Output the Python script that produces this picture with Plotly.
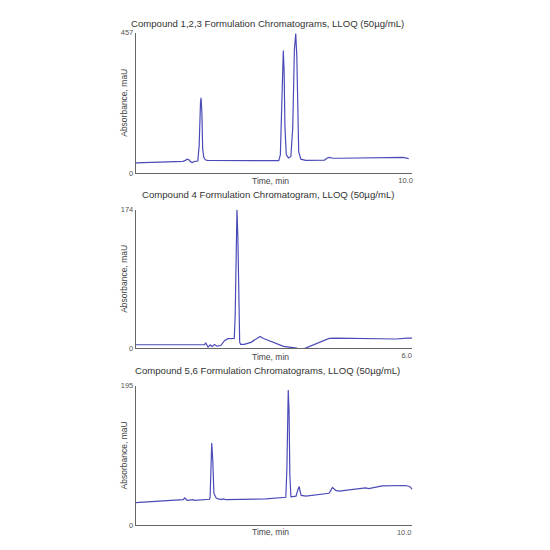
import plotly.graph_objects as go

# Compound 1,2,3 chromatogram (time in min, absorbance in mAU)
t_123 = [0, 1.0, 1.75, 1.84, 1.90, 1.97, 2.04, 2.10, 2.19, 2.30, 2.35, 2.40, 2.42, 2.45, 2.48,
         2.52, 2.58, 2.65, 3.5, 5.30, 5.36, 5.42, 5.47, 5.50, 5.53, 5.58, 5.66, 5.75, 5.82, 5.88,
         5.93, 5.97, 6.00, 6.04, 6.12, 6.30, 7.00, 7.10, 7.18, 7.30, 7.60, 8.5, 9.5, 9.9, 10.12]
abs_123 = [34, 37, 39, 42, 46, 44, 37, 35, 39, 40, 90, 230, 245, 200, 80,
           52, 44, 42, 41, 41, 60, 300, 399, 330, 150, 60, 50, 55, 150, 400,
           454, 380, 200, 70, 46, 42, 43, 50, 52, 49, 49, 51, 53, 52, 48]

# Compound 4 chromatogram
t_4 = [0, 1.52, 1.55, 1.58, 1.60, 1.65, 1.69, 1.74, 1.80, 1.88, 1.97, 2.04, 2.18, 2.20, 2.23,
       2.24, 2.26, 2.28, 2.30, 2.32, 2.40, 2.55, 2.62, 2.75, 2.83, 3.05, 3.27, 3.56, 3.60, 3.66,
       3.72, 3.75, 4.28, 4.43, 5.65, 5.76, 6.00, 6.12]
abs_4 = [4.6, 4.6, 6.7, 3, 1.7, 4.5, 2.2, 5, 2.8, 3.6, 10, 12.2, 12.5, 40, 160,
         174, 140, 40, 8, 5, 5, 7.6, 10, 15, 12.5, 7, 2.5, 0.4, -0.5, -3,
         -0.5, 0.2, 12.6, 13, 12.6, 11.8, 13, 13]

# Compound 5,6 chromatogram
t_56 = [0, 1.76, 1.83, 1.91, 2.00, 2.13, 2.19, 2.75, 2.77, 2.81, 2.83, 2.87, 2.91, 3.00, 3.18,
        3.24, 3.37, 4.85, 5.59, 5.63, 5.67, 5.68, 5.71, 5.74, 5.78, 5.97, 6.04, 6.09, 6.12, 6.16,
        6.34, 7.20, 7.28, 7.33, 7.45, 7.57, 8.56, 8.68, 9.18, 10.05, 10.20, 10.30]
abs_56 = [31.9, 36, 38.4, 35, 35.5, 36, 35, 36.6, 40, 90, 115, 90, 45, 38, 36,
          37, 36, 37, 39.4, 80, 175, 189, 160, 70, 40, 41, 50, 54.4, 48, 42,
          41, 45, 50, 53, 49, 48, 52.5, 51.5, 55.3, 55.8, 54.5, 50.6]

titles = ["Compound 1,2,3 Formulation Chromatograms, LLOQ (50\u00b5g/mL)",
          "Compound 4 Formulation Chromatogram, LLOQ (50\u00b5g/mL)",
          "Compound 5,6 Formulation Chromatograms, LLOQ (50\u00b5g/mL)"]
y_max = [457, 174, 195]
x_end = [10.0, 6.0, 10.0]
x_range_end = [10.25, 6.12, 10.3]

# page body has an 8px margin, so positions are given in screen pixels and shifted
W = H = 550
OFF = 8
def fx(px):
    return (px - OFF) / W
def fy(py):
    return 1 - (py - OFF) / H

x_dom = [fx(136), fx(413)]
y_doms = [[fy(172), fy(29)], [fy(350), fy(209)], [fy(530), fy(388)]]
title_y = [fy(20), fy(194), fy(372)]
xtitle_y = [fy(180), fy(359), fy(537)]

line_color = "#4b4bb8"
axis_color = "#666666"
font = "Liberation Sans, Arial, sans-serif"

fig = go.Figure()
series = [(t_123, abs_123), (t_4, abs_4), (t_56, abs_56)]
annotations = []
for i, (t, a) in enumerate(series):
    n = "" if i == 0 else str(i + 1)
    fig.add_trace(go.Scatter(x=t, y=a, mode="lines", xaxis="x" + n, yaxis="y" + n,
                             line=dict(color=line_color, width=1.2), showlegend=False))
    fig.layout["xaxis" + n] = dict(
        domain=x_dom, anchor="y" + n, range=[0, x_range_end[i]],
        tickvals=[x_end[i]], ticktext=[f"{x_end[i]:.1f}"],
        showgrid=False, zeroline=False, showline=True, linecolor=axis_color, linewidth=1,
        ticks="", tickfont=dict(size=7.5, color="#555555", family=font),
    )
    fig.layout["yaxis" + n] = dict(
        domain=y_doms[i], anchor="x" + n, range=[0, y_max[i]],
        tickvals=[0, y_max[i]], ticktext=["0", str(y_max[i])],
        showgrid=False, zeroline=False, showline=True, linecolor=axis_color, linewidth=1,
        ticks="", tickfont=dict(size=7.5, color="#555555", family=font),
    )
    annotations.append(dict(text=titles[i], x=fx(268), y=title_y[i], xref="paper", yref="paper",
                            xanchor="center", yanchor="middle", showarrow=False,
                            font=dict(size=9.6, color="#333333", family=font)))
    annotations.append(dict(text="Time, min", x=fx(271), y=xtitle_y[i], xref="paper", yref="paper",
                            xanchor="center", yanchor="middle", showarrow=False,
                            font=dict(size=8.5, color="#444444", family=font)))
    annotations.append(dict(text="Absorbance, maU", x=fx(124), y=sum(y_doms[i]) / 2,
                            xref="paper", yref="paper", textangle=-90,
                            xanchor="center", yanchor="middle", showarrow=False,
                            font=dict(size=8.5, color="#444444", family=font)))

fig.update_layout(
    width=W, height=H,
    margin=dict(l=0, r=0, t=0, b=0),
    plot_bgcolor="white", paper_bgcolor="white",
    annotations=annotations,
)

fig.write_html("out.html")
